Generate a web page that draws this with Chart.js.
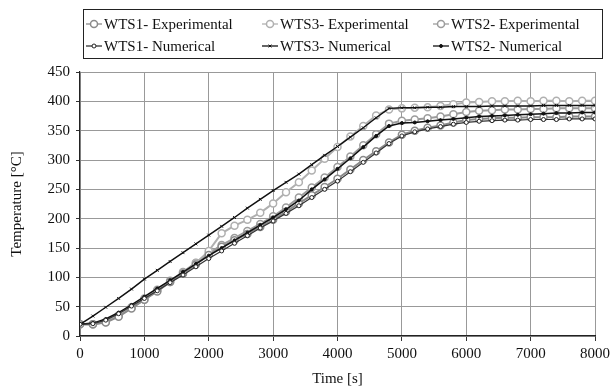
<!DOCTYPE html>
<html>
<head>
<meta charset="utf-8">
<script src="https://cdn.jsdelivr.net/npm/chart.js@4/dist/chart.umd.min.js"></script>
<style>
  html, body { margin: 0; padding: 0; background: #fff; }
  #wrap { width: 614px; height: 392px; }
</style>
</head>
<body>
<div id="wrap"><canvas id="tempChart" width="614" height="392"></canvas></div>
<script>
const timeS = [0, 200, 400, 600, 800, 1000, 1200, 1400, 1600, 1800, 2000, 2200, 2400, 2600, 2800, 3000, 3200, 3400, 3600, 3800, 4000,
  4200, 4400, 4600, 4800, 5000, 5200, 5400, 5600, 5800, 6000, 6200, 6400, 6600, 6800, 7000, 7200, 7400, 7600, 7800, 8000];

const wts1Exp = [20, 20, 23, 33, 47, 62, 76, 92, 106, 122, 138, 152, 163, 174, 186, 198, 212, 226, 240, 254, 268,
  284, 300, 315, 330, 343, 350, 355, 359, 364, 368, 370, 371, 372, 372, 373, 373, 373, 374, 374, 374];
const wts3Exp = [20, 20, 24, 35, 48, 62, 77, 92, 108, 124, 145, 175, 188, 198, 210, 226, 245, 262, 282, 302, 322,
  340, 358, 376, 386, 388, 389, 390, 392, 395, 398, 399, 400, 400, 401, 400, 401, 401, 400, 401, 401];
const wts2Exp = [20, 20, 24, 35, 49, 64, 79, 94, 109, 125, 141, 155, 167, 179, 191, 204, 219, 236, 253, 270, 288,
  306, 325, 344, 362, 367, 369, 371, 374, 378, 382, 384, 385, 386, 386, 387, 387, 388, 388, 388, 388];

const wts1Num = [20, 21, 27, 38, 51, 64, 77, 91, 104, 118, 132, 145, 158, 171, 184, 196, 209, 222, 236, 250, 264,
  280, 296, 312, 328, 341, 348, 353, 357, 361, 364, 366, 367, 368, 368, 369, 369, 369, 370, 370, 370];
const wts3Num = [20, 34, 49, 64, 80, 97, 112, 127, 142, 157, 172, 187, 202, 218, 233, 248, 262, 276, 292, 308, 323,
  339, 355, 372, 388, 389, 389, 390, 390, 391, 391, 391, 392, 392, 392, 392, 393, 393, 393, 393, 393];
const wts2Num = [20, 22, 29, 40, 53, 67, 81, 95, 109, 123, 137, 150, 163, 176, 189, 202, 216, 231, 250, 267, 285,
  303, 322, 341, 358, 363, 364, 366, 368, 370, 372, 374, 375, 376, 377, 378, 379, 380, 380, 381, 381];

const yTicks = [0, 50, 100, 150, 200, 250, 300, 350, 400, 450];
const xTicks = [0, 1000, 2000, 3000, 4000, 5000, 6000, 7000, 8000];

const serif = "'Liberation Serif', 'DejaVu Serif', serif";

function pts(ys) {
  return ys.map((y, i) => ({ x: timeS[i], y: y }));
}

const datasets = [
  { label: 'WTS1- Numerical', data: pts(wts1Num), borderColor: '#333', backgroundColor: '#fff',
    borderWidth: 1.2, pointStyle: 'circle', pointRadius: 2, pointBorderColor: '#222', pointBorderWidth: 1, order: 0 },
  { label: 'WTS3- Numerical', data: pts(wts3Num), borderColor: '#111', backgroundColor: '#111',
    borderWidth: 1.5, pointStyle: 'crossRot', pointRadius: 2, pointBorderColor: '#111', pointBorderWidth: 1, order: 0 },
  { label: 'WTS2- Numerical', data: pts(wts2Num), borderColor: '#111', backgroundColor: '#111',
    borderWidth: 1.5, pointStyle: 'circle', pointRadius: 1.5, pointBorderColor: '#111', pointBorderWidth: 1, order: 0 },
  { label: 'WTS1- Experimental', data: pts(wts1Exp), borderColor: '#8a8a8a', backgroundColor: '#fff',
    borderWidth: 2, pointStyle: 'circle', pointRadius: 3.5, pointBorderColor: '#8a8a8a', pointBorderWidth: 1.5, order: 1 },
  { label: 'WTS3- Experimental', data: pts(wts3Exp), borderColor: '#b0b0b0', backgroundColor: '#fff',
    borderWidth: 2, pointStyle: 'circle', pointRadius: 3.5, pointBorderColor: '#b0b0b0', pointBorderWidth: 1.5, order: 1 },
  { label: 'WTS2- Experimental', data: pts(wts2Exp), borderColor: '#9c9c9c', backgroundColor: '#fff',
    borderWidth: 2, pointStyle: 'circle', pointRadius: 3.5, pointBorderColor: '#9c9c9c', pointBorderWidth: 1.5, order: 1 }
];

// legend drawn in a 3 x 2 grid inside a box, like the original figure
const legendGrid = [
  ['WTS1- Experimental', 'WTS3- Experimental', 'WTS2- Experimental'],
  ['WTS1- Numerical', 'WTS3- Numerical', 'WTS2- Numerical']
];

const boxLegend = {
  id: 'boxLegend',
  afterDraw(chart) {
    const ctx = chart.ctx;
    const colX = [86, 262, 433];
    const rowY = [24, 46];
    ctx.save();
    ctx.strokeStyle = '#222';
    ctx.lineWidth = 1;
    ctx.strokeRect(83.5, 9.5, 519, 49);
    ctx.font = '15px ' + serif;
    ctx.textBaseline = 'middle';
    legendGrid.forEach((row, r) => {
      row.forEach((label, c) => {
        const ds = chart.data.datasets.find(d => d.label === label);
        const x = colX[c], y = rowY[r];
        ctx.strokeStyle = ds.borderColor;
        ctx.lineWidth = 1.3;
        ctx.beginPath();
        ctx.moveTo(x, y);
        ctx.lineTo(x + 16, y);
        ctx.stroke();
        ctx.fillStyle = ds.backgroundColor;
        ctx.strokeStyle = ds.pointBorderColor;
        ctx.lineWidth = ds.pointBorderWidth;
        Chart.helpers.drawPoint(ctx, {
          pointStyle: ds.pointStyle, radius: ds.pointRadius, borderWidth: ds.pointBorderWidth, rotation: 0
        }, x + 8, y);
        ctx.fillStyle = '#111';
        ctx.fillText(label, x + 18, y + 1);
      });
    });
    ctx.restore();
  }
};

const ctxTemp = document.getElementById('tempChart').getContext('2d');
const tempChart = new Chart(ctxTemp, {
  type: 'line',
  data: { datasets: datasets },
  options: {
    responsive: false,
    animation: false,
    layout: { padding: { top: 72, right: 17, left: 4, bottom: 0 } },
    plugins: {
      legend: { display: false },
      tooltip: { enabled: false }
    },
    elements: { line: { tension: 0 } },
    scales: {
      x: {
        type: 'linear',
        min: 0,
        max: 8000,
        afterBuildTicks: (scale) => { scale.ticks = xTicks.map(v => ({ value: v })); },
        afterFit: (scale) => { scale.height = 56; },
        ticks: { color: '#111', font: { family: serif, size: 15 }, padding: 4, maxRotation: 0,
          callback: (v) => String(v) },
        grid: { color: '#999', lineWidth: 1, tickLength: 5, tickColor: '#333' },
        border: { color: '#222', width: 1.2 },
        title: { display: true, text: 'Time [s]', color: '#111', font: { family: serif, size: 15 }, padding: { top: 2 } }
      },
      y: {
        min: 0,
        max: 450,
        afterBuildTicks: (scale) => { scale.ticks = yTicks.map(v => ({ value: v })); },
        afterFit: (scale) => { scale.width = 76; },
        ticks: { color: '#111', font: { family: serif, size: 15 }, padding: 6 },
        grid: { color: '#999', lineWidth: 1, tickLength: 4, tickColor: '#333' },
        border: { color: '#222', width: 1.2 },
        title: { display: true, text: 'Temperature [°C]', color: '#111', font: { family: serif, size: 15 }, padding: { bottom: 2 } }
      }
    }
  },
  plugins: [boxLegend]
});
</script>
</body>
</html>
